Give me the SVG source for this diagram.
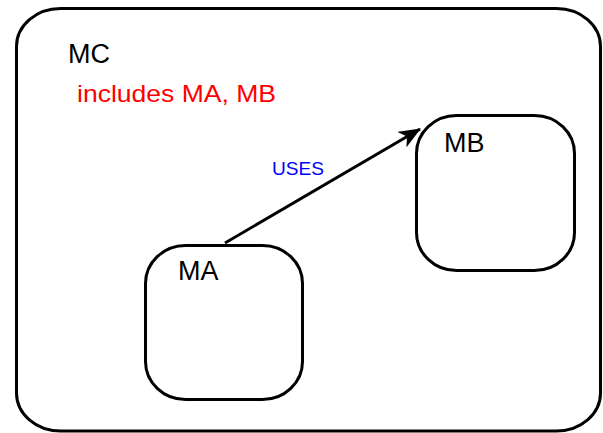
<svg xmlns="http://www.w3.org/2000/svg" width="603" height="433" viewBox="0 0 603 433">
  <defs>
    <style>
      .box { fill: #fff; stroke: #000; stroke-width: 3; }
      .inner { fill: none; stroke: #000; stroke-width: 3; }
      .name { font-family: "Liberation Sans", Arial, sans-serif; font-size: 27px; fill: #000; }
      .note { font-family: "Liberation Sans", Arial, sans-serif; font-size: 24px; fill: #ff0000; }
      .label { font-family: "Liberation Sans", Arial, sans-serif; font-size: 18px; fill: #0000ff; }
      .edge { stroke: #000; stroke-width: 3; fill: none; }
    </style>
    <marker id="arrow" viewBox="0 0 22 18" refX="21" refY="9" markerWidth="22" markerHeight="18" markerUnits="userSpaceOnUse" orient="auto">
      <path d="M0,0 L22,9 L0,18 L6,9 Z" fill="#000"/>
    </marker>
  </defs>
  <rect width="603" height="433" fill="#fff"/>
  <g id="MC">
    <rect class="box" x="16.5" y="8.5" width="584" height="422.5" rx="44" ry="38"/>
    <text class="name" x="68" y="63">MC</text>
    <text class="note" x="77" y="102" textLength="199" lengthAdjust="spacingAndGlyphs">includes MA, MB</text>
  </g>
  <g id="MA">
    <rect class="inner" x="145.5" y="245.5" width="157" height="154" rx="40" ry="38"/>
    <text class="name" x="178" y="280">MA</text>
  </g>
  <g id="MB">
    <rect class="inner" x="416.5" y="115.5" width="158" height="155" rx="40" ry="38"/>
    <text class="name" x="444" y="152">MB</text>
  </g>
  <g id="connectors">
    <line class="edge" x1="225" y1="243" x2="420" y2="129" marker-end="url(#arrow)"/>
    <text class="label" x="272" y="175" textLength="52" lengthAdjust="spacingAndGlyphs">USES</text>
  </g>
</svg>
